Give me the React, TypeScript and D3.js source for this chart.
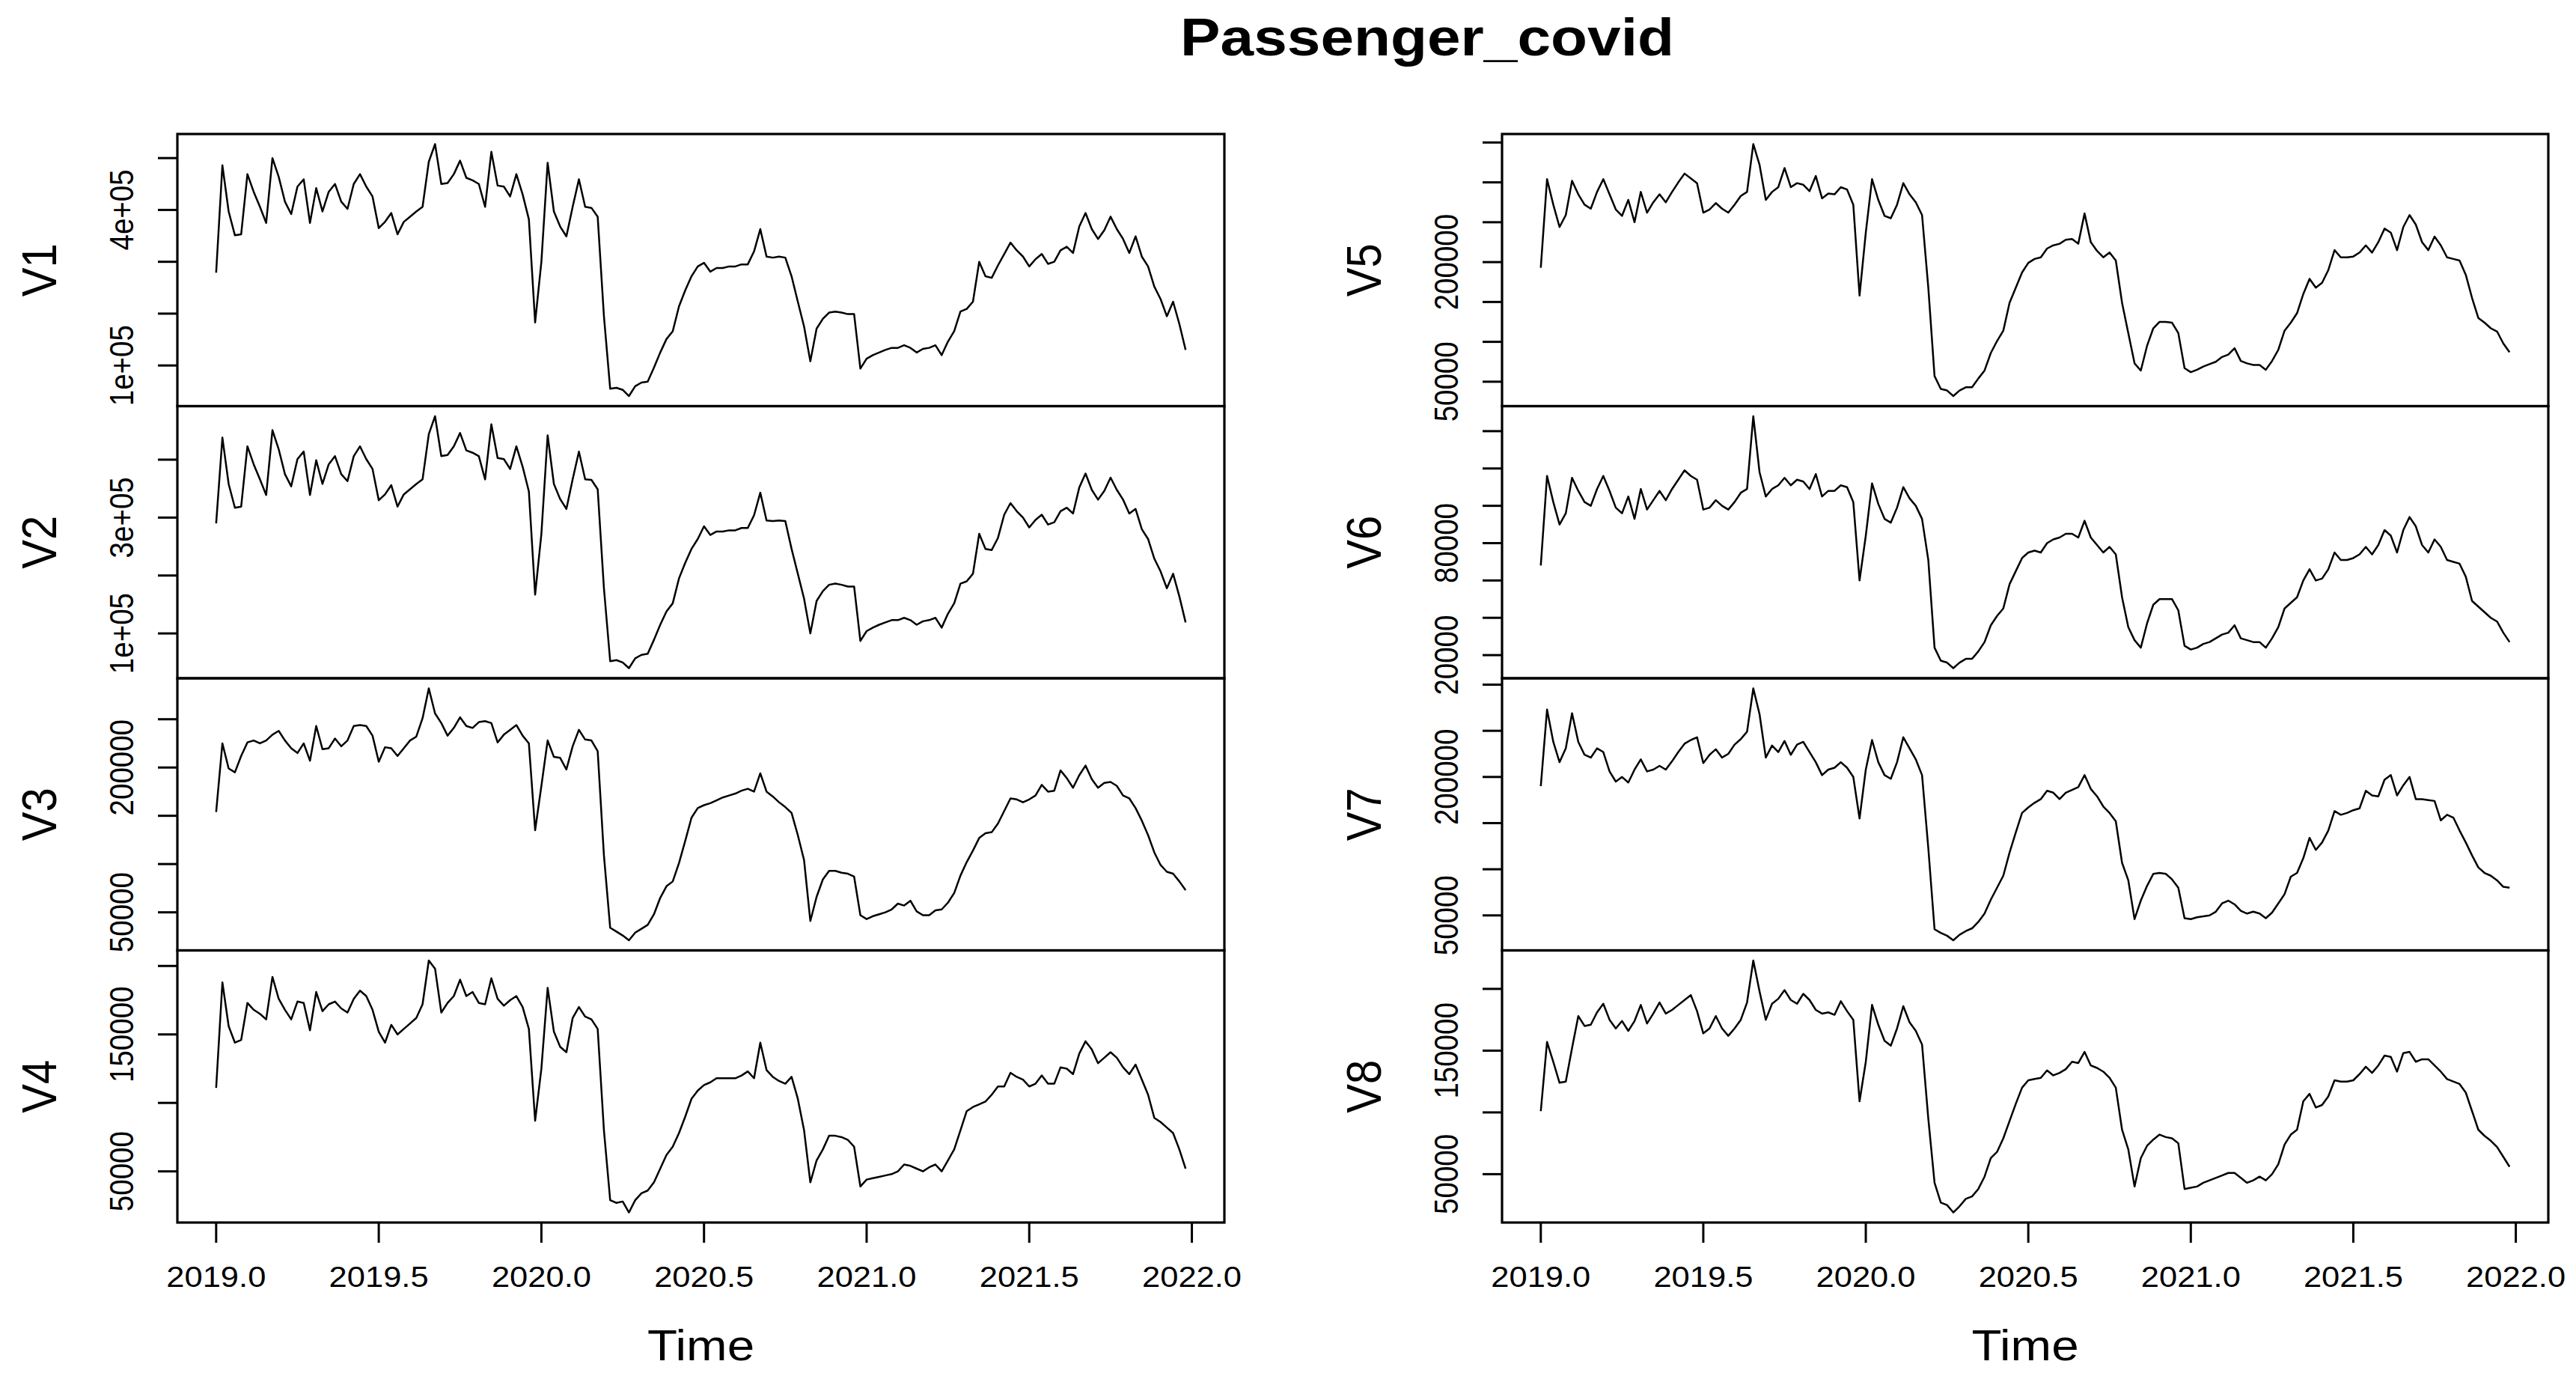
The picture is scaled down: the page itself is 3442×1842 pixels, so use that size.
import React from 'react';
import * as d3 from 'd3';

// weekly series, 52 per year, starting 2019 week 1 (values in thousands)
const START = 2019;
const FREQ = 52;
const UNIT = 1000;

const v1 = [279,486,397,351,353,469,435,406,375,500,464,416,392,445,459,375,442,397,435,450,416,402,450,469,445,426,365,377,394,353,377,387,397,406,493,527,450,452,469,495,462,457,450,406,512,447,445,426,469,430,382,183,300,491,397,368,349,406,459,406,404,387,195,55,57,53,41,60,67,69,96,125,151,166,214,245,272,291,298,281,288,288,291,291,295,295,320,363,310,308,310,308,272,223,175,108,171,190,202,204,202,199,199,94,113,120,125,130,134,134,139,134,125,132,134,139,120,146,166,204,209,223,300,272,269,293,315,337,322,310,291,305,315,296,300,322,329,317,368,394,363,344,361,387,363,344,317,349,310,291,252,228,195,223,180,130];
const v2 = [290,438,358,317,319,423,392,366,339,451,418,375,354,401,414,339,399,358,392,406,375,363,406,423,401,384,330,340,356,319,340,349,358,366,444,475,406,408,423,446,416,412,406,366,461,403,401,384,423,388,345,167,272,442,358,332,315,366,414,366,365,349,178,52,54,50,40,57,63,65,89,115,138,152,195,222,246,263,285,270,276,276,278,278,282,282,304,343,295,294,295,294,246,203,160,100,156,173,184,186,184,181,181,87,104,110,115,119,123,123,127,123,115,121,123,127,110,134,152,186,190,203,272,246,244,265,305,325,311,300,283,296,305,288,292,311,317,307,352,376,348,331,346,369,348,331,307,315,280,263,229,207,178,203,164,119];
const v3 = [154,225,199,195,212,226,228,225,228,234,238,228,220,215,225,207,243,219,220,230,222,228,243,244,243,233,206,221,220,212,220,228,232,251,282,256,246,233,241,252,243,241,247,248,246,226,234,239,244,233,225,135,181,228,211,210,198,222,239,229,228,217,109,34,30,26,21,29,33,37,48,65,77,82,101,124,148,158,161,163,166,169,171,173,176,178,175,194,175,170,164,159,153,130,104,41,66,84,93,93,91,90,87,47,43,46,48,50,53,59,57,62,51,47,47,52,53,60,70,88,102,114,127,132,133,142,155,168,167,164,167,171,182,175,176,197,189,179,192,202,188,179,184,185,181,171,168,158,145,130,112,99,92,90,82,73];
const v4 = [111,188,156,144,146,173,168,165,161,192,176,168,161,174,173,153,181,167,172,174,169,166,176,182,178,168,152,144,157,150,154,158,162,172,204,198,166,173,178,190,178,181,173,172,191,176,171,175,178,170,154,87,125,184,152,141,137,162,170,163,161,154,80,29,27,28,20,29,34,36,42,52,62,68,78,90,103,109,113,115,118,118,118,118,120,123,118,144,124,119,116,114,119,103,80,42,58,66,76,76,75,73,68,39,44,45,46,47,48,50,55,54,52,50,53,55,50,58,66,80,94,97,99,101,106,112,112,122,119,117,112,114,120,114,114,126,125,121,136,145,139,129,133,137,133,126,121,128,117,106,89,86,82,78,66,52];
const v5 = [193,304,272,244,259,302,285,272,267,288,304,285,266,258,278,250,288,262,275,285,275,288,300,311,305,299,262,266,274,267,262,272,283,288,348,322,278,288,294,318,294,299,297,289,308,280,286,285,294,291,272,158,237,304,278,258,255,272,299,285,275,259,168,57,41,39,32,39,43,43,54,64,86,101,114,149,168,187,199,204,206,217,221,223,228,229,223,261,225,214,206,212,202,149,111,73,64,95,117,125,125,124,111,67,62,65,69,72,75,81,84,92,76,73,71,71,65,76,90,114,124,136,160,179,168,174,190,215,206,206,207,212,221,212,225,242,237,215,244,259,247,225,215,232,221,206,204,202,184,155,130,124,117,113,98,87];
const v6 = [68,116,102,90,96,115,108,102,100,109,116,108,99,96,105,93,109,98,103,108,103,109,114,119,116,114,98,99,103,100,98,102,107,109,148,118,105,109,111,115,111,114,113,109,117,105,108,108,111,110,102,60,84,112,101,93,91,99,110,104,100,93,71,24,17,16,13,16,18,18,22,27,36,41,45,58,65,72,75,76,75,80,82,83,85,85,83,92,83,79,75,78,74,51,35,28,24,37,47,50,50,50,44,25,23,24,26,27,29,31,32,36,29,28,27,27,24,29,35,45,48,51,60,66,60,61,66,75,71,71,72,74,78,74,79,87,84,75,87,94,89,79,75,82,78,71,70,69,62,49,46,43,40,38,32,27];
const v7 = [190,273,238,216,231,269,238,224,221,231,227,206,195,200,194,208,219,206,208,212,208,217,227,236,240,243,215,224,230,221,225,235,241,249,296,268,221,234,227,239,224,235,238,227,216,202,208,210,216,210,200,155,208,240,216,202,198,216,243,231,219,202,123,35,31,28,23,29,33,36,43,52,67,80,93,118,140,161,167,172,176,185,183,176,183,186,189,202,187,179,168,161,152,107,88,46,66,82,95,96,95,89,80,47,46,48,49,50,54,63,66,62,55,52,54,52,47,53,63,73,92,96,112,134,121,129,142,163,159,161,164,166,185,180,179,197,202,180,191,200,176,176,175,174,153,159,156,142,129,115,102,96,93,88,81,80];
const v8 = [101,157,141,124,125,152,178,170,171,181,188,175,168,174,166,174,187,172,180,189,180,183,187,191,195,182,164,168,178,168,162,168,175,189,223,198,175,188,192,199,191,188,196,191,183,180,181,179,190,182,175,109,141,187,171,158,154,168,186,173,166,155,95,43,27,25,19,24,30,32,38,48,63,68,79,93,107,120,126,127,128,134,130,132,135,141,140,149,138,136,133,128,120,86,70,40,63,73,78,82,80,79,75,38,39,40,43,45,47,49,51,51,47,43,45,48,45,50,58,74,82,86,109,115,104,106,113,126,125,125,126,131,137,132,138,146,145,133,148,149,141,143,143,138,133,127,125,123,116,101,86,81,77,72,64,56];

// y ticks per panel and the ones R managed to label
const ticksV1 = [100000, 200000, 300000, 400000, 500000];
const labelsV1 = [100000, 400000];
const ticksV2 = [100000, 200000, 300000, 400000];
const labelsV2 = [100000, 300000];
const ticksV3 = [50000, 100000, 150000, 200000, 250000];
const labelsV3 = [50000, 200000];
const ticksV4 = [50000, 100000, 150000, 200000];
const labelsV4 = [50000, 150000];
const ticksV5 = [50000, 100000, 150000, 200000, 250000, 300000, 350000];
const labelsV5 = [50000, 200000];
const ticksV6 = [20000, 40000, 60000, 80000, 100000, 120000, 140000];
const labelsV6 = [20000, 80000];
const ticksV7 = [50000, 100000, 150000, 200000, 250000, 300000];
const labelsV7 = [50000, 200000];
const ticksV8 = [50000, 100000, 150000, 200000];
const labelsV8 = [50000, 150000];

const xTicks = [2019, 2019.5, 2020, 2020.5, 2021, 2021.5, 2022];

const panels = [
  { name: 'V1', values: v1, ticks: ticksV1, labels: labelsV1, sci: true },
  { name: 'V2', values: v2, ticks: ticksV2, labels: labelsV2, sci: true },
  { name: 'V3', values: v3, ticks: ticksV3, labels: labelsV3, sci: false },
  { name: 'V4', values: v4, ticks: ticksV4, labels: labelsV4, sci: false },
  { name: 'V5', values: v5, ticks: ticksV5, labels: labelsV5, sci: false },
  { name: 'V6', values: v6, ticks: ticksV6, labels: labelsV6, sci: false },
  { name: 'V7', values: v7, ticks: ticksV7, labels: labelsV7, sci: false },
  { name: 'V8', values: v8, ticks: ticksV8, labels: labelsV8, sci: false },
];

const W = 3442;
const H = 1842;
const SX = 1.13; // the picture is a bit stretched sideways
const FONT = 'Liberation Sans, Arial, Helvetica, sans-serif';
const cols = [
  { left: 237, right: 1636 },
  { left: 2007, right: 3405 },
];
const TOP = 179;
const BOTTOM = 1633;
const NROW = 4;

const fmt = (v: number, sci: boolean) => (sci ? `${v / 1e5}e+05` : String(v));

export default function App() {
  const rowH = (BOTTOM - TOP) / NROW;

  return (
    <svg
      width={W}
      height={H}
      style={{ position: 'absolute', left: 0, top: 0, display: 'block' }}
      fontFamily={FONT}
    >
      <rect width={W} height={H} fill="#fff" />
      <text
        transform={`translate(1907,74) scale(${SX},1)`}
        textAnchor="middle"
        fontSize={71}
        fontWeight="bold"
      >
        Passenger_covid
      </text>

      {panels.map((p, idx) => {
        const col = Math.floor(idx / NROW);
        const row = idx % NROW;
        const { left, right } = cols[col];
        const top = TOP + row * rowH;
        const bottom = top + rowH;

        const t1 = START + (p.values.length - 1) / FREQ;
        const tpad = (t1 - START) * 0.04;
        const x = d3.scaleLinear().domain([START - tpad, t1 + tpad]).range([left, right]);

        const [lo, hi] = d3.extent(p.values) as [number, number];
        const vpad = (hi - lo) * 0.04;
        const y = d3
          .scaleLinear()
          .domain([(lo - vpad) * UNIT, (hi + vpad) * UNIT])
          .range([bottom, top]);

        const path = d3
          .line<number>()
          .x((_, i) => x(START + i / FREQ))
          .y((d) => y(d * UNIT))(p.values);

        return (
          <g key={p.name}>
            <path d={path ?? ''} fill="none" stroke="#000" strokeWidth={2.5} strokeLinejoin="round" />
            <rect
              x={left}
              y={top}
              width={right - left}
              height={bottom - top}
              fill="none"
              stroke="#000"
              strokeWidth={3.2}
            />
            {p.ticks.map((t) => (
              <line key={t} x1={left - 26} x2={left} y1={y(t)} y2={y(t)} stroke="#000" strokeWidth={3} />
            ))}
            {p.labels.map((t) => (
              <text
                key={t}
                transform={`translate(${left - 59},${y(t)}) scale(${SX},1) rotate(-90)`}
                textAnchor="middle"
                fontSize={38.5}
              >
                {fmt(t, p.sci)}
              </text>
            ))}
            <text
              transform={`translate(${left - 162},${(top + bottom) / 2}) scale(${SX},1) rotate(-90)`}
              textAnchor="middle"
              fontSize={58}
            >
              {p.name}
            </text>

            {row === NROW - 1 && (
              <g>
                {xTicks.map((t) => (
                  <g key={t}>
                    <line x1={x(t)} x2={x(t)} y1={bottom} y2={bottom + 27} stroke="#000" strokeWidth={3} />
                    <text
                      transform={`translate(${x(t)},1719) scale(${SX},1)`}
                      textAnchor="middle"
                      fontSize={38.5}
                    >
                      {t.toFixed(1)}
                    </text>
                  </g>
                ))}
                <text
                  transform={`translate(${(left + right) / 2},1817) scale(${SX},1)`}
                  textAnchor="middle"
                  fontSize={58}
                >
                  Time
                </text>
              </g>
            )}
          </g>
        );
      })}
    </svg>
  );
}
